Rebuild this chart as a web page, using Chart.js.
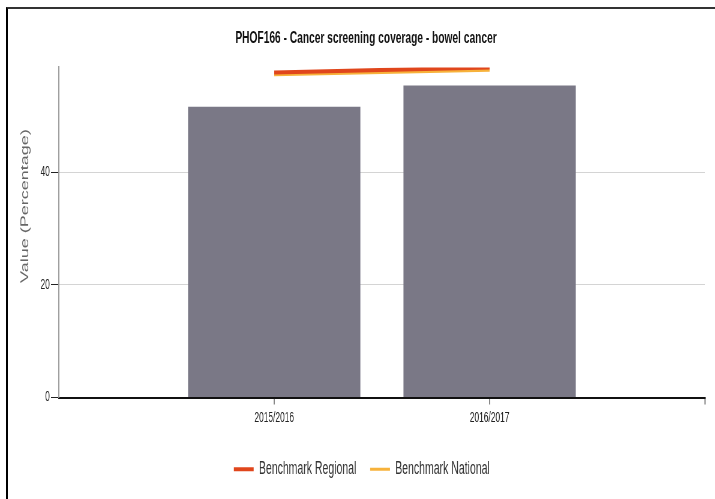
<!DOCTYPE html>
<html>
<head>
<meta charset="utf-8">
<script src="https://cdn.jsdelivr.net/npm/chart.js@4/dist/chart.umd.min.js"></script>
<style>
  html, body { margin: 0; padding: 0; background: #fff; }
  #wrap { position: relative; width: 715px; height: 499px; overflow: hidden; }
  #c { position: absolute; left: 0; top: 0; transform: scaleX(0.6); transform-origin: 0 0; }
  #frame { position: absolute; left: 6px; top: 7px; width: 800px; height: 600px;
           border-left: 2px solid #000; border-top: 2px solid #333; pointer-events: none; }
</style>
</head>
<body>
<div id="wrap">
  <canvas id="c" width="1192" height="499"></canvas>
  <div id="frame"></div>
</div>
<script>
const categories = ['', '2015/2016', '2016/2017', ''];
const valueSeries = [null, 51.6, 55.4, null];
const benchmarkRegional = [null, 57.7, 58.6, null];
const benchmarkNational = [null, 57.3, 58.1, null];
const yTicks = [0, 20, 40];

const sans = "'Liberation Sans', Arial, sans-serif";

const layoutTweaks = {
  id: 'layoutTweaks',
  afterLayout(chart) {
    // nudge the legend block to sit where the reference draws it
    if (chart.legend) { chart.legend.left -= 7; chart.legend.right -= 7; }
  },
  afterDraw(chart) {
    const ctx = chart.ctx;
    ctx.save();
    ctx.translate(42, 206);
    ctx.rotate(-Math.PI / 2);
    ctx.font = "18px " + sans;
    ctx.fillStyle = '#666';
    ctx.textAlign = 'center';
    ctx.textBaseline = 'middle';
    ctx.fillText('Value (Percentage)', 0, 0);
    ctx.restore();
  }
};

new Chart(document.getElementById('c'), {
  data: {
    labels: categories,
    datasets: [
      {
        type: 'line', label: 'Benchmark Regional', data: benchmarkRegional,
        borderColor: '#e0461c', backgroundColor: '#e0461c', borderWidth: 4,
        pointRadius: 0, fill: false, order: 0
      },
      {
        type: 'line', label: 'Benchmark National', data: benchmarkNational,
        borderColor: '#f7b23b', backgroundColor: '#f7b23b', borderWidth: 3,
        pointRadius: 0, fill: false, order: 1
      },
      {
        type: 'bar', label: 'Value', data: valueSeries,
        backgroundColor: '#7a7886', borderWidth: 0,
        barPercentage: 0.8, categoryPercentage: 1, order: 2
      }
    ]
  },
  options: {
    responsive: false,
    animation: false,
    layout: { padding: { left: 45, right: 17, top: 0, bottom: 11 } },
    plugins: {
      title: {
        display: true,
        text: 'PHOF166 - Cancer screening coverage - bowel cancer',
        color: '#111',
        font: { family: sans, size: 17, weight: 'bold' },
        padding: { top: 28, bottom: 19 }
      },
      legend: {
        position: 'bottom',
        labels: {
          filter: (item) => item.text !== 'Value',
          usePointStyle: true,
          pointStyle: 'line',
          pointStyleWidth: 33,
          boxWidth: 33,
          boxHeight: 17,
          color: '#333',
          font: { family: sans, size: 17.5 },
          padding: 23
        }
      },
      tooltip: { enabled: false }
    },
    scales: {
      x: {
        offset: false,
        grid: {
          offset: false, drawOnChartArea: false, tickLength: 7,
          tickColor: (c) => c.index === 0 ? 'rgba(0,0,0,0)' : '#888',
          color: '#888', lineWidth: 2
        },
        border: { color: '#111', width: 2 },
        ticks: { color: '#222', font: { family: sans, size: 14 }, maxRotation: 0, autoSkip: false, padding: 5 },
        afterFit(scale) { scale.height = 40; }
      },
      y: {
        min: 0, max: 58.6,
        grid: {
          color: (c) => c.tick && c.tick.value === 0 ? 'rgba(0,0,0,0)' : '#d4d4d4',
          borderDash: [3, 3],
          tickLength: 13, tickColor: '#222', tickBorderDash: []
        },
        border: { color: '#999', width: 2 },
        ticks: {
          stepSize: 20, includeBounds: false, color: '#222',
          font: { family: sans, size: 14 }, padding: 2,
          callback: (v) => yTicks.includes(v) ? String(v) : ''
        },
        afterFit(scale) { scale.width = 53; }
      }
    }
  },
  plugins: [layoutTweaks]
});
</script>
</body>
</html>
